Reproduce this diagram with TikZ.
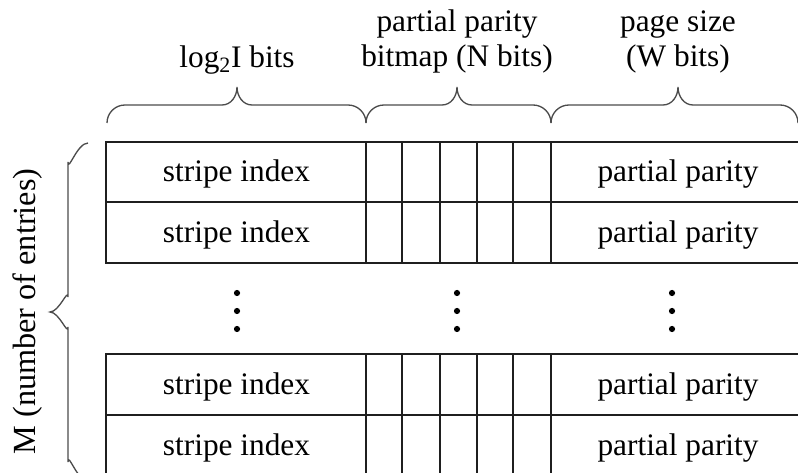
\documentclass[tikz,border=0pt]{standalone}
\usepackage{fontspec}
\setmainfont{Liberation Serif}
\begin{document}
\begin{tikzpicture}[x=0.75pt,y=-0.75pt,
  txt/.style={font=\fontsize{23.5}{28}\selectfont,inner sep=0pt,anchor=base},
  grid/.style={draw=black!88,line width=1.1pt},
  brc/.style={draw=black!70,line width=1pt},
  dotf/.style={fill=black,draw=none}]
\useasboundingbox (0,0) rectangle (798,473);
\clip (0,0) rectangle (798,473);
% table rows
\foreach \ya/\yb in {142/202,202/263,354/415,415/476}{
  \draw[grid] (106,\ya) rectangle (830,\yb);
  \foreach \xx in {366,402,440,477,513,551}{
    \draw[grid] (\xx,\ya) -- (\xx,\yb);
  }
}
% row texts
\foreach \yc/\nm in {172/a,232.5/b,384.5/c,445.5/d}{
  \node[txt] (si\nm) at (236.5,\yc+10) {stripe index};
  \node[txt] (pp\nm) at (678,\yc+10) {partial parity};
}
% dots
\foreach \xx/\nm in {237/a,457/b,672/c}{
  \foreach \yy/\k in {293/1,311/2,329/3}{
    \fill[dotf] (\xx,\yy) circle (3.1);
  }
}
% top braces
\draw[brc] (107,123) to[out=90,in=180] (125,105) -- (222,105) to[out=0,in=-90] (237,87)
  to[out=-90,in=180] (252,105) -- (348,105) to[out=0,in=90] (366,123);
\draw[brc] (366,123) to[out=90,in=180] (384,105) -- (442,105) to[out=0,in=-90] (457,87)
  to[out=-90,in=180] (472,105) -- (533,105) to[out=0,in=90] (551,123);
\draw[brc] (551,123) to[out=90,in=180] (569,105) -- (663,105) to[out=0,in=-90] (678,87)
  to[out=-90,in=180] (693,105) -- (780,105) to[out=0,in=90] (798,123);
% left brace
\draw[brc] (88,143) to[out=180,in=-90] (68,162) -- (68,297) to[out=90,in=0] (50,312)
  to[out=0,in=-90] (68,327) -- (68,462) to[out=90,in=180] (88,481);
% header texts
\node[txt] (h1) at (237,68) {log\textsubscript{2}I bits};
\node[txt] (h2a) at (457,32) {partial parity};
\node[txt] (h2b) at (457,67) {bitmap (N bits)};
\node[txt] (h3a) at (678,32) {page size};
\node[txt] (h3b) at (678,67) {(W bits)};
\node[txt,font=\fontsize{24.2}{29}\selectfont,anchor=center,rotate=90] (m) at (28,311.5) {M (number of entries)};
\end{tikzpicture}
\end{document}
